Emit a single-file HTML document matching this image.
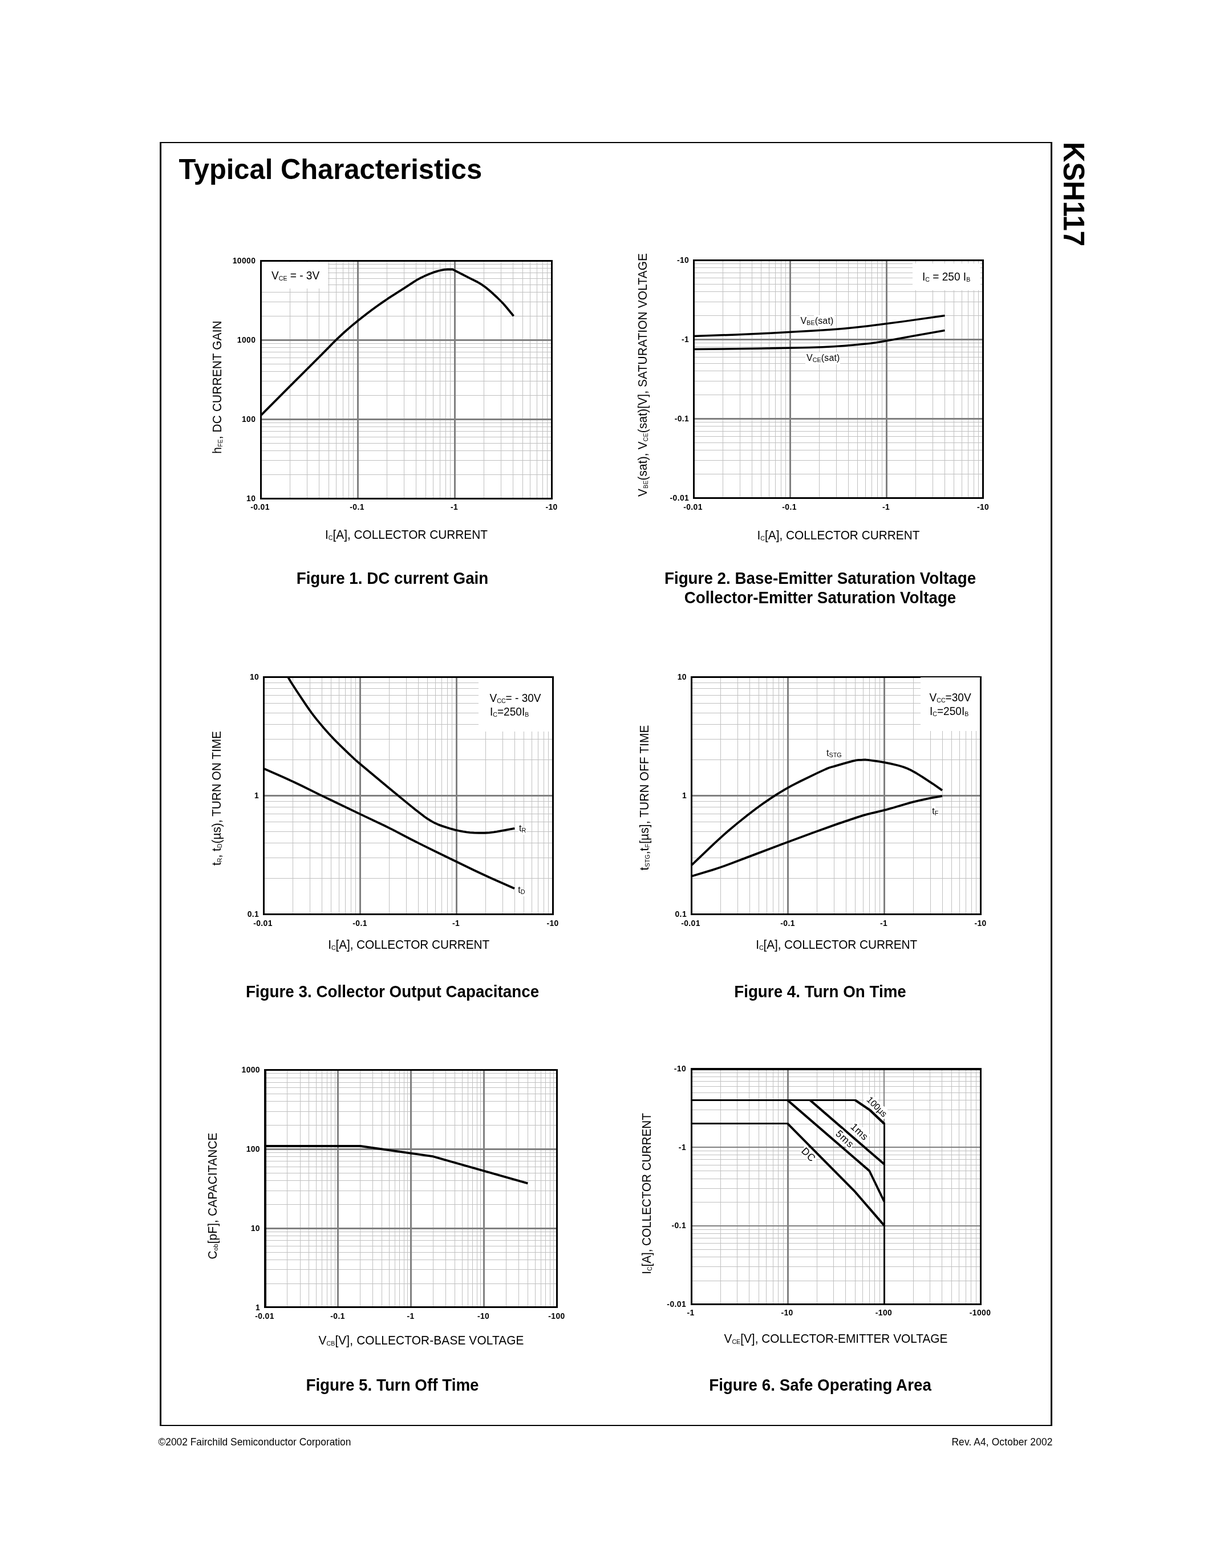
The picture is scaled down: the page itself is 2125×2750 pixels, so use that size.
<!DOCTYPE html>
<html lang="en">
<head>
<meta charset="utf-8">
<title>KSH117 - Typical Characteristics</title>
<style>
html, body { margin: 0; padding: 0; background: #fff; }
body { width: 2125px; height: 2750px; overflow: hidden; }
svg { display: block; }
svg text { font-family: "Liberation Sans", sans-serif; fill: #000; white-space: pre; }
svg rect { shape-rendering: crispEdges; }
</style>
</head>
<body>
<svg width="2125" height="2750" viewBox="0 0 2125 2750">
<rect x="0" y="0" width="2125" height="2750" fill="#fff"/>
<rect x="280" y="249" width="1565" height="2" fill="#000"/>
<rect x="280" y="2499" width="1565" height="2" fill="#000"/>
<rect x="280" y="249" width="3" height="2252" fill="#000"/>
<rect x="1842" y="249" width="3" height="2252" fill="#000"/>
<text font-size="48.9" font-weight="bold" transform="translate(313.5,314) scale(1,1.035)">Typical Characteristics</text>
<text font-size="49.2" font-weight="bold" transform="translate(1865,249) rotate(90) scale(1,1.035)">KSH117</text>
<text font-size="17.36" transform="translate(277.5,2535) scale(1,1.035)">©2002 Fairchild Semiconductor Corporation</text>
<text font-size="17.4" text-anchor="end" letter-spacing="0.12" transform="translate(1845.5,2535) scale(1,1.035)">Rev. A4, October 2002</text>
<rect x="508" y="459" width="1" height="414" fill="#c0c0c0"/>
<rect x="538" y="459" width="1" height="414" fill="#c0c0c0"/>
<rect x="559" y="459" width="1" height="414" fill="#c0c0c0"/>
<rect x="576" y="459" width="1" height="414" fill="#c0c0c0"/>
<rect x="589" y="459" width="1" height="414" fill="#c0c0c0"/>
<rect x="601" y="459" width="1" height="414" fill="#c0c0c0"/>
<rect x="611" y="459" width="1" height="414" fill="#c0c0c0"/>
<rect x="619" y="459" width="1" height="414" fill="#c0c0c0"/>
<rect x="678" y="459" width="1" height="414" fill="#c0c0c0"/>
<rect x="708" y="459" width="1" height="414" fill="#c0c0c0"/>
<rect x="729" y="459" width="1" height="414" fill="#c0c0c0"/>
<rect x="746" y="459" width="1" height="414" fill="#c0c0c0"/>
<rect x="759" y="459" width="1" height="414" fill="#c0c0c0"/>
<rect x="771" y="459" width="1" height="414" fill="#c0c0c0"/>
<rect x="781" y="459" width="1" height="414" fill="#c0c0c0"/>
<rect x="789" y="459" width="1" height="414" fill="#c0c0c0"/>
<rect x="848" y="459" width="1" height="414" fill="#c0c0c0"/>
<rect x="878" y="459" width="1" height="414" fill="#c0c0c0"/>
<rect x="899" y="459" width="1" height="414" fill="#c0c0c0"/>
<rect x="916" y="459" width="1" height="414" fill="#c0c0c0"/>
<rect x="929" y="459" width="1" height="414" fill="#c0c0c0"/>
<rect x="941" y="459" width="1" height="414" fill="#c0c0c0"/>
<rect x="951" y="459" width="1" height="414" fill="#c0c0c0"/>
<rect x="959" y="459" width="1" height="414" fill="#c0c0c0"/>
<rect x="459" y="832" width="507" height="1" fill="#c0c0c0"/>
<rect x="459" y="807" width="507" height="1" fill="#c0c0c0"/>
<rect x="459" y="790" width="507" height="1" fill="#c0c0c0"/>
<rect x="459" y="777" width="507" height="1" fill="#c0c0c0"/>
<rect x="459" y="766" width="507" height="1" fill="#c0c0c0"/>
<rect x="459" y="756" width="507" height="1" fill="#c0c0c0"/>
<rect x="459" y="748" width="507" height="1" fill="#c0c0c0"/>
<rect x="459" y="741" width="507" height="1" fill="#c0c0c0"/>
<rect x="459" y="693" width="507" height="1" fill="#c0c0c0"/>
<rect x="459" y="668" width="507" height="1" fill="#c0c0c0"/>
<rect x="459" y="651" width="507" height="1" fill="#c0c0c0"/>
<rect x="459" y="638" width="507" height="1" fill="#c0c0c0"/>
<rect x="459" y="627" width="507" height="1" fill="#c0c0c0"/>
<rect x="459" y="617" width="507" height="1" fill="#c0c0c0"/>
<rect x="459" y="609" width="507" height="1" fill="#c0c0c0"/>
<rect x="459" y="602" width="507" height="1" fill="#c0c0c0"/>
<rect x="459" y="554" width="507" height="1" fill="#c0c0c0"/>
<rect x="459" y="529" width="507" height="1" fill="#c0c0c0"/>
<rect x="459" y="512" width="507" height="1" fill="#c0c0c0"/>
<rect x="459" y="499" width="507" height="1" fill="#c0c0c0"/>
<rect x="459" y="488" width="507" height="1" fill="#c0c0c0"/>
<rect x="459" y="478" width="507" height="1" fill="#c0c0c0"/>
<rect x="459" y="470" width="507" height="1" fill="#c0c0c0"/>
<rect x="459" y="463" width="507" height="1" fill="#c0c0c0"/>
<rect x="626" y="459" width="3" height="414" fill="#808080"/>
<rect x="796" y="459" width="3" height="414" fill="#808080"/>
<rect x="459" y="734" width="507" height="3" fill="#808080"/>
<rect x="459" y="595" width="507" height="3" fill="#808080"/>
<rect x="459" y="460" width="116" height="46" fill="#fff"/>
<path d="M457.5,728.4 508.3,677.3 562.88,622.92 576.5,609.2 584.82,600.54 590.58,594.93 602.77,583.5 614.9,572.85 628.37,561.68 642.78,550.41 652,543.5 661.63,536.51 670.73,530.1 680.14,523.7 709.49,504.86 725.91,494.06 731.44,490.7 736.27,488.06 744,484.34 753.39,480.24 761.72,477.11 767.8,475.24 773.64,473.86 779.5,472.91 785.01,472.52 793.4,472.4 810.74,481.18 822.58,487.34 837.46,494.82 841.04,496.84 844.65,499.09 850.53,503.27 856.74,508.26 863.91,514.53 871.66,521.76 879.49,529.51 883.48,533.79 888.18,539.2 900.5,554.3" fill="none" stroke="#000" stroke-width="3.8" stroke-linejoin="round" stroke-linecap="butt"/>
<rect x="456" y="456" width="513" height="3" fill="#000"/>
<rect x="456" y="873" width="513" height="3" fill="#000"/>
<rect x="456" y="456" width="3" height="420" fill="#000"/>
<rect x="966" y="456" width="3" height="420" fill="#000"/>
<text font-size="19.1" transform="translate(476,490) scale(1,1.035)">V<tspan font-size="10.6" dy="2">CE</tspan><tspan dy="-2"> = - 3V</tspan></text>
<text font-size="13.9" font-weight="bold" text-anchor="middle" letter-spacing="0.4" transform="translate(456,894) scale(1,1.035)">-0.01</text>
<text font-size="13.9" font-weight="bold" text-anchor="middle" letter-spacing="0.4" transform="translate(626,894) scale(1,1.035)">-0.1</text>
<text font-size="13.9" font-weight="bold" text-anchor="middle" letter-spacing="0.4" transform="translate(796.5,894) scale(1,1.035)">-1</text>
<text font-size="13.9" font-weight="bold" text-anchor="middle" letter-spacing="0.4" transform="translate(967,894) scale(1,1.035)">-10</text>
<text font-size="13.9" font-weight="bold" text-anchor="end" letter-spacing="0.4" transform="translate(448.3,462) scale(1,1.035)">10000</text>
<text font-size="13.9" font-weight="bold" text-anchor="end" letter-spacing="0.4" transform="translate(448.3,601) scale(1,1.035)">1000</text>
<text font-size="13.9" font-weight="bold" text-anchor="end" letter-spacing="0.4" transform="translate(448.3,740) scale(1,1.035)">100</text>
<text font-size="13.9" font-weight="bold" text-anchor="end" letter-spacing="0.4" transform="translate(448.3,878.5) scale(1,1.035)">10</text>
<text font-size="20.83" text-anchor="middle" transform="translate(712.5,945) scale(1,1.035)">I<tspan font-size="10.6" dy="2">C</tspan><tspan dy="-2">[A], COLLECTOR CURRENT</tspan></text>
<text font-size="20.83" text-anchor="middle" letter-spacing="0.15" transform="translate(388,679) rotate(-90) scale(1,1.035)">h<tspan font-size="10.6" dy="2">FE</tspan><tspan dy="-2">, DC CURRENT GAIN</tspan></text>
<text font-size="27.8" font-weight="bold" text-anchor="middle" transform="translate(688,1024) scale(1,1.035)">Figure 1. DC current Gain</text>
<rect x="1267" y="458" width="1" height="414" fill="#c0c0c0"/>
<rect x="1297" y="458" width="1" height="414" fill="#c0c0c0"/>
<rect x="1318" y="458" width="1" height="414" fill="#c0c0c0"/>
<rect x="1334" y="458" width="1" height="414" fill="#c0c0c0"/>
<rect x="1348" y="458" width="1" height="414" fill="#c0c0c0"/>
<rect x="1359" y="458" width="1" height="414" fill="#c0c0c0"/>
<rect x="1369" y="458" width="1" height="414" fill="#c0c0c0"/>
<rect x="1377" y="458" width="1" height="414" fill="#c0c0c0"/>
<rect x="1436" y="458" width="1" height="414" fill="#c0c0c0"/>
<rect x="1466" y="458" width="1" height="414" fill="#c0c0c0"/>
<rect x="1487" y="458" width="1" height="414" fill="#c0c0c0"/>
<rect x="1503" y="458" width="1" height="414" fill="#c0c0c0"/>
<rect x="1517" y="458" width="1" height="414" fill="#c0c0c0"/>
<rect x="1528" y="458" width="1" height="414" fill="#c0c0c0"/>
<rect x="1538" y="458" width="1" height="414" fill="#c0c0c0"/>
<rect x="1546" y="458" width="1" height="414" fill="#c0c0c0"/>
<rect x="1605" y="458" width="1" height="414" fill="#c0c0c0"/>
<rect x="1635" y="458" width="1" height="414" fill="#c0c0c0"/>
<rect x="1656" y="458" width="1" height="414" fill="#c0c0c0"/>
<rect x="1672" y="458" width="1" height="414" fill="#c0c0c0"/>
<rect x="1686" y="458" width="1" height="414" fill="#c0c0c0"/>
<rect x="1697" y="458" width="1" height="414" fill="#c0c0c0"/>
<rect x="1707" y="458" width="1" height="414" fill="#c0c0c0"/>
<rect x="1715" y="458" width="1" height="414" fill="#c0c0c0"/>
<rect x="1218" y="831" width="504" height="1" fill="#c0c0c0"/>
<rect x="1218" y="807" width="504" height="1" fill="#c0c0c0"/>
<rect x="1218" y="789" width="504" height="1" fill="#c0c0c0"/>
<rect x="1218" y="776" width="504" height="1" fill="#c0c0c0"/>
<rect x="1218" y="765" width="504" height="1" fill="#c0c0c0"/>
<rect x="1218" y="756" width="504" height="1" fill="#c0c0c0"/>
<rect x="1218" y="747" width="504" height="1" fill="#c0c0c0"/>
<rect x="1218" y="740" width="504" height="1" fill="#c0c0c0"/>
<rect x="1218" y="692" width="504" height="1" fill="#c0c0c0"/>
<rect x="1218" y="668" width="504" height="1" fill="#c0c0c0"/>
<rect x="1218" y="650" width="504" height="1" fill="#c0c0c0"/>
<rect x="1218" y="637" width="504" height="1" fill="#c0c0c0"/>
<rect x="1218" y="626" width="504" height="1" fill="#c0c0c0"/>
<rect x="1218" y="617" width="504" height="1" fill="#c0c0c0"/>
<rect x="1218" y="608" width="504" height="1" fill="#c0c0c0"/>
<rect x="1218" y="601" width="504" height="1" fill="#c0c0c0"/>
<rect x="1218" y="553" width="504" height="1" fill="#c0c0c0"/>
<rect x="1218" y="529" width="504" height="1" fill="#c0c0c0"/>
<rect x="1218" y="511" width="504" height="1" fill="#c0c0c0"/>
<rect x="1218" y="498" width="504" height="1" fill="#c0c0c0"/>
<rect x="1218" y="487" width="504" height="1" fill="#c0c0c0"/>
<rect x="1218" y="478" width="504" height="1" fill="#c0c0c0"/>
<rect x="1218" y="469" width="504" height="1" fill="#c0c0c0"/>
<rect x="1218" y="462" width="504" height="1" fill="#c0c0c0"/>
<rect x="1384" y="458" width="3" height="414" fill="#808080"/>
<rect x="1553" y="458" width="3" height="414" fill="#808080"/>
<rect x="1218" y="733" width="504" height="3" fill="#808080"/>
<rect x="1218" y="594" width="504" height="3" fill="#808080"/>
<rect x="1600" y="462" width="119" height="47" fill="#fff"/>
<rect x="1402" y="553" width="13" height="20" fill="#fff"/>
<rect x="1415" y="555" width="13" height="20" fill="#fff"/>
<rect x="1427" y="553" width="36" height="20" fill="#fff"/>
<rect x="1412" y="618" width="61" height="21" fill="#fff"/>
<path d="M1216.5,589.6 1290.42,586.9 1351.23,584.18 1426.7,580.11 1446.75,578.85 1464.73,577.5 1482.59,575.92 1501.91,573.96 1522.3,571.65 1545.82,568.79 1585.13,563.63 1656.5,553.6" fill="none" stroke="#000" stroke-width="3.5" stroke-linejoin="round" stroke-linecap="butt"/>
<path d="M1216.5,612.6 1328.32,611.21 1381.65,610.29 1418.98,609.38 1442.03,608.64 1461.71,607.75 1479.55,606.58 1494.61,605.34 1510.32,603.84 1527.11,602.04 1536.49,600.8 1561.47,596.49 1602.56,588.99 1656.5,579.5" fill="none" stroke="#000" stroke-width="3.5" stroke-linejoin="round" stroke-linecap="butt"/>
<rect x="1215" y="455" width="510" height="3" fill="#000"/>
<rect x="1215" y="872" width="510" height="3" fill="#000"/>
<rect x="1215" y="455" width="3" height="420" fill="#000"/>
<rect x="1722" y="455" width="3" height="420" fill="#000"/>
<text font-size="19.1" transform="translate(1617,492) scale(1,1.035)">I<tspan font-size="10.6" dy="2">C</tspan><tspan dy="-2"> = 250 I</tspan><tspan font-size="10.6" dy="2">B</tspan></text>
<text font-size="16" letter-spacing="0.15" transform="translate(1403.5,568) scale(1,1.035)">V<tspan font-size="10.6" dy="2">BE</tspan><tspan dy="-2">(sat)</tspan></text>
<text font-size="16" letter-spacing="0.15" transform="translate(1414,633) scale(1,1.035)">V<tspan font-size="10.6" dy="2">CE</tspan><tspan dy="-2">(sat)</tspan></text>
<text font-size="13.9" font-weight="bold" text-anchor="middle" letter-spacing="0.4" transform="translate(1215,894) scale(1,1.035)">-0.01</text>
<text font-size="13.9" font-weight="bold" text-anchor="middle" letter-spacing="0.4" transform="translate(1384,894) scale(1,1.035)">-0.1</text>
<text font-size="13.9" font-weight="bold" text-anchor="middle" letter-spacing="0.4" transform="translate(1553.5,894) scale(1,1.035)">-1</text>
<text font-size="13.9" font-weight="bold" text-anchor="middle" letter-spacing="0.4" transform="translate(1723.5,894) scale(1,1.035)">-10</text>
<text font-size="13.9" font-weight="bold" text-anchor="end" letter-spacing="0.4" transform="translate(1208.2,461) scale(1,1.035)">-10</text>
<text font-size="13.9" font-weight="bold" text-anchor="end" letter-spacing="0.4" transform="translate(1208.2,600) scale(1,1.035)">-1</text>
<text font-size="13.9" font-weight="bold" text-anchor="end" letter-spacing="0.4" transform="translate(1208.2,739) scale(1,1.035)">-0.1</text>
<text font-size="13.9" font-weight="bold" text-anchor="end" letter-spacing="0.4" transform="translate(1208.2,878) scale(1,1.035)">-0.01</text>
<text font-size="20.83" text-anchor="middle" transform="translate(1470,945.5) scale(1,1.035)">I<tspan font-size="10.6" dy="2">C</tspan><tspan dy="-2">[A], COLLECTOR CURRENT</tspan></text>
<text font-size="20.83" text-anchor="middle" letter-spacing="0.16" transform="translate(1133.7,657.5) rotate(-90) scale(1,1.035)">V<tspan font-size="10.6" dy="2">BE</tspan><tspan dy="-2">(sat), V</tspan><tspan font-size="10.6" dy="2">CE</tspan><tspan dy="-2">(sat)[V], SATURATION VOLTAGE</tspan></text>
<text font-size="27.8" font-weight="bold" text-anchor="middle" transform="translate(1438,1024) scale(1,1.035)">Figure 2. Base-Emitter Saturation Voltage</text>
<text font-size="27.8" font-weight="bold" text-anchor="middle" transform="translate(1438,1057.5) scale(1,1.035)">Collector-Emitter Saturation Voltage</text>
<rect x="513" y="1189" width="1" height="413" fill="#c0c0c0"/>
<rect x="543" y="1189" width="1" height="413" fill="#c0c0c0"/>
<rect x="564" y="1189" width="1" height="413" fill="#c0c0c0"/>
<rect x="580" y="1189" width="1" height="413" fill="#c0c0c0"/>
<rect x="594" y="1189" width="1" height="413" fill="#c0c0c0"/>
<rect x="605" y="1189" width="1" height="413" fill="#c0c0c0"/>
<rect x="615" y="1189" width="1" height="413" fill="#c0c0c0"/>
<rect x="623" y="1189" width="1" height="413" fill="#c0c0c0"/>
<rect x="682" y="1189" width="1" height="413" fill="#c0c0c0"/>
<rect x="712" y="1189" width="1" height="413" fill="#c0c0c0"/>
<rect x="733" y="1189" width="1" height="413" fill="#c0c0c0"/>
<rect x="749" y="1189" width="1" height="413" fill="#c0c0c0"/>
<rect x="763" y="1189" width="1" height="413" fill="#c0c0c0"/>
<rect x="774" y="1189" width="1" height="413" fill="#c0c0c0"/>
<rect x="784" y="1189" width="1" height="413" fill="#c0c0c0"/>
<rect x="792" y="1189" width="1" height="413" fill="#c0c0c0"/>
<rect x="851" y="1189" width="1" height="413" fill="#c0c0c0"/>
<rect x="881" y="1189" width="1" height="413" fill="#c0c0c0"/>
<rect x="902" y="1189" width="1" height="413" fill="#c0c0c0"/>
<rect x="918" y="1189" width="1" height="413" fill="#c0c0c0"/>
<rect x="932" y="1189" width="1" height="413" fill="#c0c0c0"/>
<rect x="943" y="1189" width="1" height="413" fill="#c0c0c0"/>
<rect x="953" y="1189" width="1" height="413" fill="#c0c0c0"/>
<rect x="961" y="1189" width="1" height="413" fill="#c0c0c0"/>
<rect x="464" y="1540" width="504" height="1" fill="#c0c0c0"/>
<rect x="464" y="1504" width="504" height="1" fill="#c0c0c0"/>
<rect x="464" y="1478" width="504" height="1" fill="#c0c0c0"/>
<rect x="464" y="1458" width="504" height="1" fill="#c0c0c0"/>
<rect x="464" y="1441" width="504" height="1" fill="#c0c0c0"/>
<rect x="464" y="1427" width="504" height="1" fill="#c0c0c0"/>
<rect x="464" y="1415" width="504" height="1" fill="#c0c0c0"/>
<rect x="464" y="1405" width="504" height="1" fill="#c0c0c0"/>
<rect x="464" y="1332" width="504" height="1" fill="#c0c0c0"/>
<rect x="464" y="1296" width="504" height="1" fill="#c0c0c0"/>
<rect x="464" y="1270" width="504" height="1" fill="#c0c0c0"/>
<rect x="464" y="1250" width="504" height="1" fill="#c0c0c0"/>
<rect x="464" y="1233" width="504" height="1" fill="#c0c0c0"/>
<rect x="464" y="1219" width="504" height="1" fill="#c0c0c0"/>
<rect x="464" y="1207" width="504" height="1" fill="#c0c0c0"/>
<rect x="464" y="1197" width="504" height="1" fill="#c0c0c0"/>
<rect x="630" y="1189" width="3" height="413" fill="#808080"/>
<rect x="799" y="1189" width="3" height="413" fill="#808080"/>
<rect x="464" y="1394" width="504" height="3" fill="#808080"/>
<rect x="839" y="1189" width="129" height="94" fill="#fff"/>
<rect x="908.5" y="1444" width="6.5" height="17" fill="#fff"/>
<rect x="914.5" y="1450.5" width="8" height="13" fill="#fff"/>
<rect x="907" y="1552" width="6" height="17" fill="#fff"/>
<rect x="912.5" y="1559.5" width="8" height="12" fill="#fff"/>
<path d="M504.8,1187 507.76,1192.34 510.43,1196.79 520.11,1211.72 536.21,1235.92 541.9,1244.18 546.39,1250.43 550.58,1255.96 555.07,1261.64 568.11,1277.31 576.75,1287.04 586.73,1297.66 598.34,1309.17 612.33,1322.64 622.14,1331.84 630.1,1338.73 682.2,1382.3 715.81,1409.86 727.67,1419.45 739.01,1428.34 744.83,1432.75 748.97,1435.66 756.22,1440.13 762.63,1443.56 768.24,1446.14 775.03,1448.62 791.03,1453.7 798,1455.58 804.76,1457.01 811.74,1458.3 818,1459.31 824.08,1460.1 831.35,1460.69 839.77,1460.91 850.52,1460.77 857.97,1460.31 865.8,1459.4 870.87,1458.63 902.3,1452.8" fill="none" stroke="#000" stroke-width="3.8" stroke-linejoin="round" stroke-linecap="butt"/>
<path d="M462.5,1348 496.06,1362.77 516.21,1371.97 529.3,1378.28 560.26,1393.59 580.9,1403.57 633.68,1428.9 673.55,1447.76 689.35,1455.61 719.62,1471.5 737.2,1480.4 780.21,1501.57 830.15,1525.77 846.65,1533.58 860.74,1540.05 902,1558.2" fill="none" stroke="#000" stroke-width="3.8" stroke-linejoin="round" stroke-linecap="butt"/>
<rect x="461" y="1186" width="510" height="3" fill="#000"/>
<rect x="461" y="1602" width="510" height="3" fill="#000"/>
<rect x="461" y="1186" width="3" height="419" fill="#000"/>
<rect x="968" y="1186" width="3" height="419" fill="#000"/>
<text font-size="19.1" transform="translate(858.5,1231) scale(1,1.035)">V<tspan font-size="10.6" dy="2">CC</tspan><tspan dy="-2">= - 30V</tspan></text>
<text font-size="19.1" transform="translate(859,1255) scale(1,1.035)">I<tspan font-size="10.6" dy="2">C</tspan><tspan dy="-2">=250I</tspan><tspan font-size="10.6" dy="2">B</tspan></text>
<text font-size="16" transform="translate(910,1458) scale(1,1.035)">t<tspan font-size="10.8" dy="2">R</tspan></text>
<text font-size="16" transform="translate(908.3,1565.5) scale(1,1.035)">t<tspan font-size="10.8" dy="2">D</tspan></text>
<text font-size="13.9" font-weight="bold" text-anchor="middle" letter-spacing="0.4" transform="translate(461,1624) scale(1,1.035)">-0.01</text>
<text font-size="13.9" font-weight="bold" text-anchor="middle" letter-spacing="0.4" transform="translate(631,1624) scale(1,1.035)">-0.1</text>
<text font-size="13.9" font-weight="bold" text-anchor="middle" letter-spacing="0.4" transform="translate(799.5,1624) scale(1,1.035)">-1</text>
<text font-size="13.9" font-weight="bold" text-anchor="middle" letter-spacing="0.4" transform="translate(969,1624) scale(1,1.035)">-10</text>
<text font-size="13.9" font-weight="bold" text-anchor="end" letter-spacing="0.4" transform="translate(454.2,1192) scale(1,1.035)">10</text>
<text font-size="13.9" font-weight="bold" text-anchor="end" letter-spacing="0.4" transform="translate(454.2,1400) scale(1,1.035)">1</text>
<text font-size="13.9" font-weight="bold" text-anchor="end" letter-spacing="0.4" transform="translate(454.2,1608) scale(1,1.035)">0.1</text>
<text font-size="20.83" text-anchor="middle" letter-spacing="-0.08" transform="translate(716.7,1663.5) scale(1,1.035)">I<tspan font-size="10.6" dy="2">C</tspan><tspan dy="-2">[A], COLLECTOR CURRENT</tspan></text>
<text font-size="20.83" text-anchor="middle" transform="translate(387,1400) rotate(-90) scale(1,1.035)">t<tspan font-size="10.6" dy="2">R</tspan><tspan dy="-2">, t</tspan><tspan font-size="10.6" dy="2">D</tspan><tspan dy="-2">(µs), TURN ON TIME</tspan></text>
<text font-size="27.8" font-weight="bold" text-anchor="middle" transform="translate(688,1749) scale(1,1.035)">Figure 3. Collector Output Capacitance</text>
<rect x="1263" y="1189" width="1" height="413" fill="#c0c0c0"/>
<rect x="1293" y="1189" width="1" height="413" fill="#c0c0c0"/>
<rect x="1314" y="1189" width="1" height="413" fill="#c0c0c0"/>
<rect x="1330" y="1189" width="1" height="413" fill="#c0c0c0"/>
<rect x="1344" y="1189" width="1" height="413" fill="#c0c0c0"/>
<rect x="1355" y="1189" width="1" height="413" fill="#c0c0c0"/>
<rect x="1365" y="1189" width="1" height="413" fill="#c0c0c0"/>
<rect x="1373" y="1189" width="1" height="413" fill="#c0c0c0"/>
<rect x="1432" y="1189" width="1" height="413" fill="#c0c0c0"/>
<rect x="1462" y="1189" width="1" height="413" fill="#c0c0c0"/>
<rect x="1483" y="1189" width="1" height="413" fill="#c0c0c0"/>
<rect x="1499" y="1189" width="1" height="413" fill="#c0c0c0"/>
<rect x="1513" y="1189" width="1" height="413" fill="#c0c0c0"/>
<rect x="1524" y="1189" width="1" height="413" fill="#c0c0c0"/>
<rect x="1534" y="1189" width="1" height="413" fill="#c0c0c0"/>
<rect x="1542" y="1189" width="1" height="413" fill="#c0c0c0"/>
<rect x="1601" y="1189" width="1" height="413" fill="#c0c0c0"/>
<rect x="1631" y="1189" width="1" height="413" fill="#c0c0c0"/>
<rect x="1652" y="1189" width="1" height="413" fill="#c0c0c0"/>
<rect x="1668" y="1189" width="1" height="413" fill="#c0c0c0"/>
<rect x="1682" y="1189" width="1" height="413" fill="#c0c0c0"/>
<rect x="1693" y="1189" width="1" height="413" fill="#c0c0c0"/>
<rect x="1703" y="1189" width="1" height="413" fill="#c0c0c0"/>
<rect x="1711" y="1189" width="1" height="413" fill="#c0c0c0"/>
<rect x="1214" y="1540" width="504" height="1" fill="#c0c0c0"/>
<rect x="1214" y="1504" width="504" height="1" fill="#c0c0c0"/>
<rect x="1214" y="1478" width="504" height="1" fill="#c0c0c0"/>
<rect x="1214" y="1458" width="504" height="1" fill="#c0c0c0"/>
<rect x="1214" y="1441" width="504" height="1" fill="#c0c0c0"/>
<rect x="1214" y="1427" width="504" height="1" fill="#c0c0c0"/>
<rect x="1214" y="1415" width="504" height="1" fill="#c0c0c0"/>
<rect x="1214" y="1405" width="504" height="1" fill="#c0c0c0"/>
<rect x="1214" y="1332" width="504" height="1" fill="#c0c0c0"/>
<rect x="1214" y="1296" width="504" height="1" fill="#c0c0c0"/>
<rect x="1214" y="1270" width="504" height="1" fill="#c0c0c0"/>
<rect x="1214" y="1250" width="504" height="1" fill="#c0c0c0"/>
<rect x="1214" y="1233" width="504" height="1" fill="#c0c0c0"/>
<rect x="1214" y="1219" width="504" height="1" fill="#c0c0c0"/>
<rect x="1214" y="1207" width="504" height="1" fill="#c0c0c0"/>
<rect x="1214" y="1197" width="504" height="1" fill="#c0c0c0"/>
<rect x="1380" y="1189" width="3" height="413" fill="#808080"/>
<rect x="1549" y="1189" width="3" height="413" fill="#808080"/>
<rect x="1214" y="1394" width="504" height="3" fill="#808080"/>
<rect x="1448" y="1312" width="6.5" height="17" fill="#fff"/>
<rect x="1454" y="1317" width="22.5" height="13" fill="#fff"/>
<rect x="1633.5" y="1415" width="6.5" height="16" fill="#fff"/>
<rect x="1639.5" y="1420" width="6.5" height="12" fill="#fff"/>
<path d="M1212.5,1517.4 1238.12,1492.76 1253.14,1478.53 1264.58,1468.06 1276.55,1457.55 1291.63,1444.89 1309.56,1430.5 1324.87,1418.75 1338.51,1408.83 1351.21,1400.16 1363.25,1392.41 1376.09,1384.65 1387.65,1378.13 1402.58,1370.48 1433.24,1355.61 1447.93,1348.88 1452.9,1346.83 1456.03,1345.74 1462.11,1344.15 1478.3,1339.39 1494.55,1334.83 1501.07,1333.37 1505.23,1332.92 1510,1332.8 1515.84,1332.44 1518.15,1332.52 1522.02,1332.88 1531,1334.05 1541.81,1335.71 1550.3,1337.2 1561.65,1339.43 1572.87,1341.98 1577.61,1343.26 1582.56,1344.8 1587.25,1346.42 1590.77,1347.81 1594.33,1349.39 1598.18,1351.3 1606.21,1355.74 1617.99,1363.09 1635.8,1374.8 1652,1386.1" fill="none" stroke="#000" stroke-width="3.8" stroke-linejoin="round" stroke-linecap="butt"/>
<path d="M1212.5,1536.8 1248.73,1525.81 1260.54,1522 1269.98,1518.74 1283.44,1513.8 1310.11,1503.62 1371.93,1480.31 1423.93,1461.09 1466.7,1445.64 1504.56,1432.86 1513.35,1430.15 1521.3,1427.95 1545.55,1422.2 1554.48,1419.88 1565.6,1416.72 1594.04,1408.37 1601.4,1406.4 1614.44,1403.36 1631.6,1399.7 1640.28,1398.07 1652,1396.1" fill="none" stroke="#000" stroke-width="3.8" stroke-linejoin="round" stroke-linecap="butt"/>
<rect x="1211" y="1186" width="510" height="3" fill="#000"/>
<rect x="1211" y="1602" width="510" height="3" fill="#000"/>
<rect x="1211" y="1186" width="3" height="419" fill="#000"/>
<rect x="1718" y="1186" width="3" height="419" fill="#000"/>
<rect x="1614" y="1188" width="104" height="94" fill="#fff"/>
<text font-size="19.1" transform="translate(1629.5,1230) scale(1,1.035)">V<tspan font-size="10.6" dy="2">CC</tspan><tspan dy="-2">=30V</tspan></text>
<text font-size="19.1" transform="translate(1630,1254) scale(1,1.035)">I<tspan font-size="10.6" dy="2">C</tspan><tspan dy="-2">=250I</tspan><tspan font-size="10.6" dy="2">B</tspan></text>
<text font-size="16" transform="translate(1449,1325.5) scale(1,1.035)">t<tspan font-size="10.8" dy="2">STG</tspan></text>
<text font-size="16" transform="translate(1634.3,1428) scale(1,1.035)">t<tspan font-size="10.8" dy="2">F</tspan></text>
<text font-size="13.9" font-weight="bold" text-anchor="middle" letter-spacing="0.4" transform="translate(1211,1624) scale(1,1.035)">-0.01</text>
<text font-size="13.9" font-weight="bold" text-anchor="middle" letter-spacing="0.4" transform="translate(1381,1624) scale(1,1.035)">-0.1</text>
<text font-size="13.9" font-weight="bold" text-anchor="middle" letter-spacing="0.4" transform="translate(1549.5,1624) scale(1,1.035)">-1</text>
<text font-size="13.9" font-weight="bold" text-anchor="middle" letter-spacing="0.4" transform="translate(1719,1624) scale(1,1.035)">-10</text>
<text font-size="13.9" font-weight="bold" text-anchor="end" letter-spacing="0.4" transform="translate(1204,1192) scale(1,1.035)">10</text>
<text font-size="13.9" font-weight="bold" text-anchor="end" letter-spacing="0.4" transform="translate(1204,1400) scale(1,1.035)">1</text>
<text font-size="13.9" font-weight="bold" text-anchor="end" letter-spacing="0.4" transform="translate(1204,1608) scale(1,1.035)">0.1</text>
<text font-size="20.83" text-anchor="middle" letter-spacing="-0.08" transform="translate(1466.7,1663.5) scale(1,1.035)">I<tspan font-size="10.6" dy="2">C</tspan><tspan dy="-2">[A], COLLECTOR CURRENT</tspan></text>
<text font-size="20.83" text-anchor="middle" letter-spacing="0.15" transform="translate(1137,1399) rotate(-90) scale(1,1.035)">t<tspan font-size="10.6" dy="2">STG</tspan><tspan dy="-2">,t</tspan><tspan font-size="10.6" dy="2">F</tspan><tspan dy="-2">[µs], TURN OFF TIME</tspan></text>
<text font-size="27.8" font-weight="bold" text-anchor="middle" transform="translate(1438,1749) scale(1,1.035)">Figure 4. Turn On Time</text>
<rect x="503" y="1878" width="1" height="413" fill="#c0c0c0"/>
<rect x="526" y="1878" width="1" height="413" fill="#c0c0c0"/>
<rect x="541" y="1878" width="1" height="413" fill="#c0c0c0"/>
<rect x="554" y="1878" width="1" height="413" fill="#c0c0c0"/>
<rect x="564" y="1878" width="1" height="413" fill="#c0c0c0"/>
<rect x="573" y="1878" width="1" height="413" fill="#c0c0c0"/>
<rect x="580" y="1878" width="1" height="413" fill="#c0c0c0"/>
<rect x="587" y="1878" width="1" height="413" fill="#c0c0c0"/>
<rect x="631" y="1878" width="1" height="413" fill="#c0c0c0"/>
<rect x="653" y="1878" width="1" height="413" fill="#c0c0c0"/>
<rect x="669" y="1878" width="1" height="413" fill="#c0c0c0"/>
<rect x="682" y="1878" width="1" height="413" fill="#c0c0c0"/>
<rect x="692" y="1878" width="1" height="413" fill="#c0c0c0"/>
<rect x="700" y="1878" width="1" height="413" fill="#c0c0c0"/>
<rect x="708" y="1878" width="1" height="413" fill="#c0c0c0"/>
<rect x="714" y="1878" width="1" height="413" fill="#c0c0c0"/>
<rect x="759" y="1878" width="1" height="413" fill="#c0c0c0"/>
<rect x="781" y="1878" width="1" height="413" fill="#c0c0c0"/>
<rect x="797" y="1878" width="1" height="413" fill="#c0c0c0"/>
<rect x="810" y="1878" width="1" height="413" fill="#c0c0c0"/>
<rect x="820" y="1878" width="1" height="413" fill="#c0c0c0"/>
<rect x="828" y="1878" width="1" height="413" fill="#c0c0c0"/>
<rect x="836" y="1878" width="1" height="413" fill="#c0c0c0"/>
<rect x="842" y="1878" width="1" height="413" fill="#c0c0c0"/>
<rect x="887" y="1878" width="1" height="413" fill="#c0c0c0"/>
<rect x="909" y="1878" width="1" height="413" fill="#c0c0c0"/>
<rect x="925" y="1878" width="1" height="413" fill="#c0c0c0"/>
<rect x="938" y="1878" width="1" height="413" fill="#c0c0c0"/>
<rect x="948" y="1878" width="1" height="413" fill="#c0c0c0"/>
<rect x="956" y="1878" width="1" height="413" fill="#c0c0c0"/>
<rect x="964" y="1878" width="1" height="413" fill="#c0c0c0"/>
<rect x="970" y="1878" width="1" height="413" fill="#c0c0c0"/>
<rect x="467" y="2251" width="508" height="1" fill="#c0c0c0"/>
<rect x="467" y="2226" width="508" height="1" fill="#c0c0c0"/>
<rect x="467" y="2209" width="508" height="1" fill="#c0c0c0"/>
<rect x="467" y="2196" width="508" height="1" fill="#c0c0c0"/>
<rect x="467" y="2185" width="508" height="1" fill="#c0c0c0"/>
<rect x="467" y="2175" width="508" height="1" fill="#c0c0c0"/>
<rect x="467" y="2167" width="508" height="1" fill="#c0c0c0"/>
<rect x="467" y="2160" width="508" height="1" fill="#c0c0c0"/>
<rect x="467" y="2112" width="508" height="1" fill="#c0c0c0"/>
<rect x="467" y="2088" width="508" height="1" fill="#c0c0c0"/>
<rect x="467" y="2070" width="508" height="1" fill="#c0c0c0"/>
<rect x="467" y="2057" width="508" height="1" fill="#c0c0c0"/>
<rect x="467" y="2046" width="508" height="1" fill="#c0c0c0"/>
<rect x="467" y="2036" width="508" height="1" fill="#c0c0c0"/>
<rect x="467" y="2028" width="508" height="1" fill="#c0c0c0"/>
<rect x="467" y="2021" width="508" height="1" fill="#c0c0c0"/>
<rect x="467" y="1973" width="508" height="1" fill="#c0c0c0"/>
<rect x="467" y="1949" width="508" height="1" fill="#c0c0c0"/>
<rect x="467" y="1931" width="508" height="1" fill="#c0c0c0"/>
<rect x="467" y="1918" width="508" height="1" fill="#c0c0c0"/>
<rect x="467" y="1907" width="508" height="1" fill="#c0c0c0"/>
<rect x="467" y="1898" width="508" height="1" fill="#c0c0c0"/>
<rect x="467" y="1890" width="508" height="1" fill="#c0c0c0"/>
<rect x="467" y="1882" width="508" height="1" fill="#c0c0c0"/>
<rect x="591" y="1878" width="3" height="413" fill="#808080"/>
<rect x="719" y="1878" width="3" height="413" fill="#808080"/>
<rect x="847" y="1878" width="3" height="413" fill="#808080"/>
<rect x="467" y="2153" width="508" height="3" fill="#808080"/>
<rect x="467" y="2014" width="508" height="3" fill="#808080"/>
<path d="M630,2010 631.8,2010 758.9,2028.2 925.3,2075.3" fill="none" stroke="#000" stroke-width="3.8" stroke-linejoin="round" stroke-linecap="butt"/>
<rect x="465" y="2008" width="167" height="4" fill="#000"/>
<rect x="463" y="1875" width="515" height="3" fill="#000"/>
<rect x="463" y="2291" width="515" height="3" fill="#000"/>
<rect x="463" y="1875" width="4" height="419" fill="#000"/>
<rect x="975" y="1875" width="3" height="419" fill="#000"/>
<text font-size="13.9" font-weight="bold" text-anchor="middle" letter-spacing="0.4" transform="translate(464,2313) scale(1,1.035)">-0.01</text>
<text font-size="13.9" font-weight="bold" text-anchor="middle" letter-spacing="0.4" transform="translate(592,2313) scale(1,1.035)">-0.1</text>
<text font-size="13.9" font-weight="bold" text-anchor="middle" letter-spacing="0.4" transform="translate(720,2313) scale(1,1.035)">-1</text>
<text font-size="13.9" font-weight="bold" text-anchor="middle" letter-spacing="0.4" transform="translate(847.5,2313) scale(1,1.035)">-10</text>
<text font-size="13.9" font-weight="bold" text-anchor="middle" letter-spacing="0.4" transform="translate(976,2313) scale(1,1.035)">-100</text>
<text font-size="13.9" font-weight="bold" text-anchor="end" letter-spacing="0.4" transform="translate(456,1881) scale(1,1.035)">1000</text>
<text font-size="13.9" font-weight="bold" text-anchor="end" letter-spacing="0.4" transform="translate(456,2020) scale(1,1.035)">100</text>
<text font-size="13.9" font-weight="bold" text-anchor="end" letter-spacing="0.4" transform="translate(456,2159) scale(1,1.035)">10</text>
<text font-size="13.9" font-weight="bold" text-anchor="end" letter-spacing="0.4" transform="translate(456,2297.5) scale(1,1.035)">1</text>
<text font-size="20.83" text-anchor="middle" letter-spacing="0.14" transform="translate(738.5,2358) scale(1,1.035)">V<tspan font-size="10.6" dy="2">CB</tspan><tspan dy="-2">[V], COLLECTOR-BASE VOLTAGE</tspan></text>
<text font-size="20.83" text-anchor="middle" letter-spacing="0.15" transform="translate(380,2097.5) rotate(-90) scale(1,1.035)">C<tspan font-size="10.6" dy="2">ob</tspan><tspan dy="-2">[pF], CAPACITANCE</tspan></text>
<text font-size="27.8" font-weight="bold" text-anchor="middle" transform="translate(688,2439) scale(1,1.035)">Figure 5. Turn Off Time</text>
<rect x="1263" y="1877" width="1" height="409" fill="#c0c0c0"/>
<rect x="1292" y="1877" width="1" height="409" fill="#c0c0c0"/>
<rect x="1313" y="1877" width="1" height="409" fill="#c0c0c0"/>
<rect x="1330" y="1877" width="1" height="409" fill="#c0c0c0"/>
<rect x="1343" y="1877" width="1" height="409" fill="#c0c0c0"/>
<rect x="1355" y="1877" width="1" height="409" fill="#c0c0c0"/>
<rect x="1364" y="1877" width="1" height="409" fill="#c0c0c0"/>
<rect x="1373" y="1877" width="1" height="409" fill="#c0c0c0"/>
<rect x="1432" y="1877" width="1" height="409" fill="#c0c0c0"/>
<rect x="1461" y="1877" width="1" height="409" fill="#c0c0c0"/>
<rect x="1482" y="1877" width="1" height="409" fill="#c0c0c0"/>
<rect x="1499" y="1877" width="1" height="409" fill="#c0c0c0"/>
<rect x="1512" y="1877" width="1" height="409" fill="#c0c0c0"/>
<rect x="1524" y="1877" width="1" height="409" fill="#c0c0c0"/>
<rect x="1533" y="1877" width="1" height="409" fill="#c0c0c0"/>
<rect x="1542" y="1877" width="1" height="409" fill="#c0c0c0"/>
<rect x="1601" y="1877" width="1" height="409" fill="#c0c0c0"/>
<rect x="1630" y="1877" width="1" height="409" fill="#c0c0c0"/>
<rect x="1651" y="1877" width="1" height="409" fill="#c0c0c0"/>
<rect x="1668" y="1877" width="1" height="409" fill="#c0c0c0"/>
<rect x="1681" y="1877" width="1" height="409" fill="#c0c0c0"/>
<rect x="1693" y="1877" width="1" height="409" fill="#c0c0c0"/>
<rect x="1702" y="1877" width="1" height="409" fill="#c0c0c0"/>
<rect x="1711" y="1877" width="1" height="409" fill="#c0c0c0"/>
<rect x="1214" y="2246" width="504" height="1" fill="#c0c0c0"/>
<rect x="1214" y="2221" width="504" height="1" fill="#c0c0c0"/>
<rect x="1214" y="2204" width="504" height="1" fill="#c0c0c0"/>
<rect x="1214" y="2191" width="504" height="1" fill="#c0c0c0"/>
<rect x="1214" y="2180" width="504" height="1" fill="#c0c0c0"/>
<rect x="1214" y="2171" width="504" height="1" fill="#c0c0c0"/>
<rect x="1214" y="2163" width="504" height="1" fill="#c0c0c0"/>
<rect x="1214" y="2156" width="504" height="1" fill="#c0c0c0"/>
<rect x="1214" y="2108" width="504" height="1" fill="#c0c0c0"/>
<rect x="1214" y="2084" width="504" height="1" fill="#c0c0c0"/>
<rect x="1214" y="2067" width="504" height="1" fill="#c0c0c0"/>
<rect x="1214" y="2053" width="504" height="1" fill="#c0c0c0"/>
<rect x="1214" y="2043" width="504" height="1" fill="#c0c0c0"/>
<rect x="1214" y="2033" width="504" height="1" fill="#c0c0c0"/>
<rect x="1214" y="2025" width="504" height="1" fill="#c0c0c0"/>
<rect x="1214" y="2018" width="504" height="1" fill="#c0c0c0"/>
<rect x="1214" y="1971" width="504" height="1" fill="#c0c0c0"/>
<rect x="1214" y="1946" width="504" height="1" fill="#c0c0c0"/>
<rect x="1214" y="1929" width="504" height="1" fill="#c0c0c0"/>
<rect x="1214" y="1916" width="504" height="1" fill="#c0c0c0"/>
<rect x="1214" y="1905" width="504" height="1" fill="#c0c0c0"/>
<rect x="1214" y="1896" width="504" height="1" fill="#c0c0c0"/>
<rect x="1214" y="1888" width="504" height="1" fill="#c0c0c0"/>
<rect x="1214" y="1881" width="504" height="1" fill="#c0c0c0"/>
<rect x="1380" y="1877" width="3" height="409" fill="#808080"/>
<rect x="1549" y="1877" width="2" height="409" fill="#808080"/>
<rect x="1214" y="2149" width="504" height="2" fill="#808080"/>
<rect x="1214" y="2011" width="504" height="2" fill="#808080"/>
<path d="M1211,1928 1501,1928 1526.5,1945.3 1551.5,1969 1551.5,1972 1548.5,1972 1523.5,1948.3 1498,1931 1211,1931Z" fill="#000"/>
<rect x="1548.5" y="1969" width="3.5" height="318" fill="#000"/>
<path d="M1418.9,1928.1 1421.4,1928.1 1421.9,1928.27 1551.4,2040.1 1551.4,2042.9 1548.9,2042.9 1548.4,2042.73 1418.9,1930.9Z" fill="#000"/>
<path d="M1379.4,1928.1 1381.9,1928.1 1382.4,1928.27 1525.4,2051.84 1525.9,2052.51 1551.4,2105.3 1551.4,2108.1 1548.9,2108.1 1548.4,2107.69 1522.9,2054.9 1379.4,1930.9Z" fill="#000"/>
<path d="M1211.1,1969.1 1382.1,1969.1 1500.1,2088.2 1551.4,2147.6 1551.4,2150.4 1548.6,2150.4 1497.1,2090.8 1379.6,1972.1 1379.1,1971.9 1211.1,1971.9Z" fill="#000"/>
<rect x="1211" y="1873" width="510" height="4" fill="#000"/>
<rect x="1211" y="2286" width="510" height="3" fill="#000"/>
<rect x="1211" y="1873" width="3" height="416" fill="#000"/>
<rect x="1718" y="1873" width="3" height="416" fill="#000"/>
<g transform="translate(1537.6,1940.9) rotate(45)">
<rect x="-24" y="-9" width="48" height="18" fill="#fff"/>
<text font-size="15.6" text-anchor="middle" transform="translate(0,5.62) scale(1,1.035)">100µs</text>
</g>
<g transform="translate(1507.2,1984.8) rotate(43)">
<rect x="-18" y="-9" width="36" height="18" fill="#fff"/>
<text font-size="17.3" text-anchor="middle" letter-spacing="0.8" transform="translate(0,6.23) scale(1,1.035)">1ms</text>
</g>
<g transform="translate(1481.6,1997.5) rotate(43)">
<rect x="-18.5" y="-9" width="37" height="18" fill="#fff"/>
<text font-size="17.3" text-anchor="middle" letter-spacing="1.2" transform="translate(0,6.23) scale(1,1.035)">5ms</text>
</g>
<g transform="translate(1418,2025) rotate(45)">
<rect x="-15" y="-9" width="30" height="18" fill="#fff"/>
<text font-size="17.3" text-anchor="middle" letter-spacing="1.2" transform="translate(0,6.23) scale(1,1.035)">DC</text>
</g>
<text font-size="13.9" font-weight="bold" text-anchor="middle" letter-spacing="0.4" transform="translate(1211,2306.5) scale(1,1.035)">-1</text>
<text font-size="13.9" font-weight="bold" text-anchor="middle" letter-spacing="0.4" transform="translate(1380,2306.5) scale(1,1.035)">-10</text>
<text font-size="13.9" font-weight="bold" text-anchor="middle" letter-spacing="0.4" transform="translate(1549.5,2306.5) scale(1,1.035)">-100</text>
<text font-size="13.9" font-weight="bold" text-anchor="middle" letter-spacing="0.4" transform="translate(1718.5,2306.5) scale(1,1.035)">-1000</text>
<text font-size="13.9" font-weight="bold" text-anchor="end" letter-spacing="0.4" transform="translate(1203,1879) scale(1,1.035)">-10</text>
<text font-size="13.9" font-weight="bold" text-anchor="end" letter-spacing="0.4" transform="translate(1203,2017) scale(1,1.035)">-1</text>
<text font-size="13.9" font-weight="bold" text-anchor="end" letter-spacing="0.4" transform="translate(1203,2154) scale(1,1.035)">-0.1</text>
<text font-size="13.9" font-weight="bold" text-anchor="end" letter-spacing="0.4" transform="translate(1203,2291.5) scale(1,1.035)">-0.01</text>
<text font-size="20.83" text-anchor="middle" transform="translate(1465.5,2355) scale(1,1.035)">V<tspan font-size="10.6" dy="2">CE</tspan><tspan dy="-2">[V], COLLECTOR-EMITTER VOLTAGE</tspan></text>
<text font-size="20.83" text-anchor="middle" letter-spacing="-0.1" transform="translate(1141,2093.5) rotate(-90) scale(1,1.035)">I<tspan font-size="10.6" dy="2">C</tspan><tspan dy="-2">[A], COLLECTOR CURRENT</tspan></text>
<text font-size="27.8" font-weight="bold" text-anchor="middle" transform="translate(1438,2439) scale(1,1.035)">Figure 6. Safe Operating Area</text>
</svg>
</body>
</html>
